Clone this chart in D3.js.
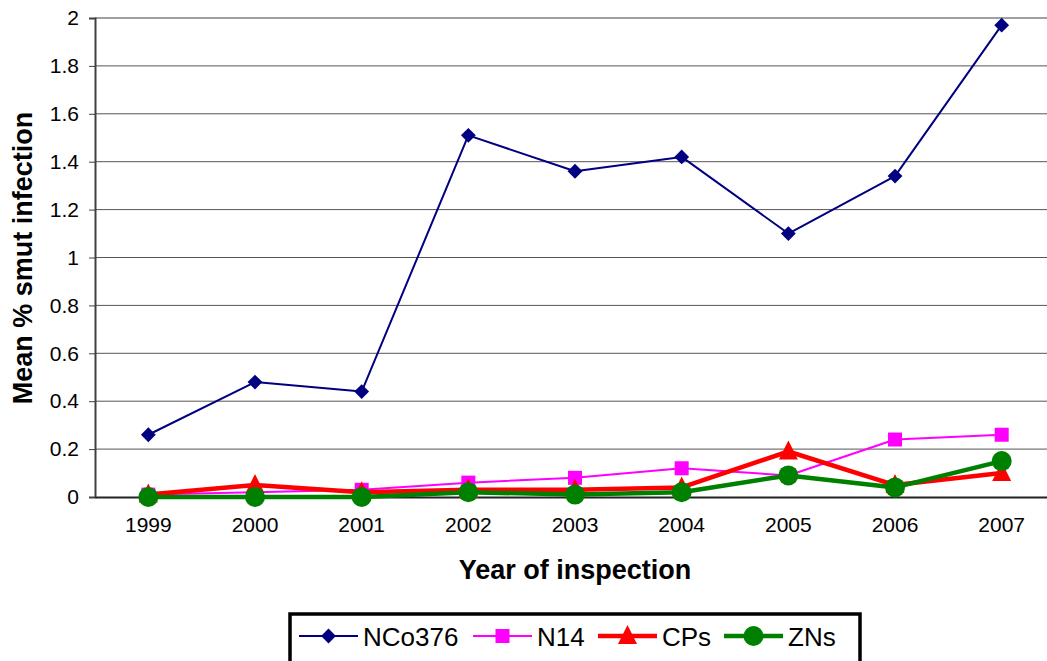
<!DOCTYPE html>
<html>
<head>
<meta charset="utf-8">
<script src="https://cdnjs.cloudflare.com/ajax/libs/d3/7.8.5/d3.min.js"></script>
<style>
  body { margin: 0; background: #fff; }
  svg { font-family: "Liberation Sans", Arial, sans-serif; }
</style>
</head>
<body>
<svg id="chart" width="1047" height="661"></svg>
<script>
// data
let years = ["1999", "2000", "2001", "2002", "2003", "2004", "2005", "2006", "2007"];
let nco376 = [0.26, 0.48, 0.44, 1.51, 1.36, 1.42, 1.10, 1.34, 1.97];
let n14    = [0.01, 0.02, 0.03, 0.06, 0.08, 0.12, 0.09, 0.24, 0.26];
let cps    = [0.01, 0.05, 0.02, 0.03, 0.03, 0.04, 0.19, 0.05, 0.10];
let zns    = [0.00, 0.00, 0.00, 0.02, 0.01, 0.02, 0.09, 0.04, 0.15];
let yTicks = [0, 0.2, 0.4, 0.6, 0.8, 1, 1.2, 1.4, 1.6, 1.8, 2];

let series = [
    { name: "NCo376", values: nco376, color: "#000080", width: 2,   marker: "diamond" },
    { name: "N14",    values: n14,    color: "#ff00ff", width: 2,   marker: "square" },
    { name: "CPs",    values: cps,    color: "#ff0000", width: 4.5, marker: "triangle" },
    { name: "ZNs",    values: zns,    color: "#008000", width: 4.5, marker: "circle" }
];

let chart = d3.select("#chart");
let plotLeft = 95, plotTop = 18, plotBottom = 497;
let step = 106.67;

let x = d3.scaleBand().domain(years).range([plotLeft, plotLeft + step * years.length]);
let y = d3.scaleLinear().domain([0, 2]).range([plotBottom, plotTop]);
let cx = function(d, i) { return x(years[i]) + x.bandwidth() / 2; };

// gridlines
chart.append("g").selectAll("line")
    .data(yTicks.filter(function(t) { return t > 0 && t < 2; }))
    .enter().append("line")
    .attr("x1", plotLeft).attr("x2", 1047)
    .attr("y1", function(d) { return y(d); })
    .attr("y2", function(d) { return y(d); })
    .attr("stroke", "#555")
    .attr("stroke-width", 1);

chart.append("line")
    .attr("x1", plotLeft).attr("x2", 1047)
    .attr("y1", y(2)).attr("y2", y(2))
    .attr("stroke", "#a0a0a0").attr("stroke-width", 2);

// y axis
let yAxis = d3.axisLeft(y).tickValues(yTicks).tickSize(6).tickPadding(10)
    .tickFormat(function(d) { return d3.format("")(+d.toFixed(1)); });
let ya = chart.append("g").attr("transform", "translate(" + plotLeft + ",0)").call(yAxis);
ya.select(".domain").attr("stroke", "#404040").attr("stroke-width", 2);
ya.selectAll(".tick line").attr("stroke", "#404040");
ya.selectAll("text").style("font-size", "21px").style("font-family", "'Liberation Sans', Arial, sans-serif").attr("fill", "#000");

// x axis
let xAxis = d3.axisBottom(x).tickSize(0).tickPadding(20);
let xa = chart.append("g").attr("transform", "translate(0," + plotBottom + ")").call(xAxis);
xa.select(".domain").attr("stroke", "#222").attr("stroke-width", 2);
xa.selectAll("text").style("font-size", "21px").style("font-family", "'Liberation Sans', Arial, sans-serif").attr("fill", "#000");

// titles
chart.append("text")
    .attr("x", 575).attr("y", 579)
    .attr("text-anchor", "middle")
    .style("font-size", "27px").style("font-weight", "bold")
    .text("Year of inspection");

chart.append("text")
    .attr("transform", "translate(32,258) rotate(-90)")
    .attr("text-anchor", "middle")
    .style("font-size", "27px").style("font-weight", "bold")
    .text("Mean % smut infection");

// markers
function drawMarker(sel, type, color) {
    if (type == "diamond") {
        sel.append("path").attr("d", d3.symbol(d3.symbolDiamond2, 140)()).attr("fill", color);
    } else if (type == "square") {
        sel.append("rect").attr("x", -7).attr("y", -7).attr("width", 14).attr("height", 14).attr("fill", color);
    } else if (type == "triangle") {
        sel.append("path").attr("d", "M0,-11L9.5,8L-9.5,8Z").attr("fill", color);
    } else {
        sel.append("circle").attr("r", 10).attr("fill", color);
    }
}

let line = d3.line()
    .x(function(d, i) { return cx(d, i); })
    .y(function(d) { return y(d); });

series.forEach(function(s) {
    let g = chart.append("g");
    g.append("path")
        .datum(s.values)
        .attr("d", line)
        .attr("fill", "none")
        .attr("stroke", s.color)
        .attr("stroke-width", s.width)
        .attr("stroke-linejoin", "round");
    g.selectAll("g.m")
        .data(s.values)
        .enter().append("g")
        .attr("class", "m")
        .attr("transform", function(d, i) { return "translate(" + cx(d, i) + "," + y(d) + ")"; })
        .each(function() { drawMarker(d3.select(this), s.marker, s.color); });
});

// legend
let legend = chart.append("g");
legend.append("rect")
    .attr("x", 290).attr("y", 614)
    .attr("width", 570).attr("height", 60)
    .attr("fill", "#fff").attr("stroke", "#000").attr("stroke-width", 3.5);

let legendX = [299, 473, 598, 724];
series.forEach(function(s, i) {
    let lg = legend.append("g").attr("transform", "translate(" + legendX[i] + ",636)");
    lg.append("line").attr("x1", 0).attr("x2", 59).attr("y1", 0).attr("y2", 0)
        .attr("stroke", s.color).attr("stroke-width", s.width);
    let m = lg.append("g").attr("transform", "translate(29.5,0)");
    drawMarker(m, s.marker, s.color);
    lg.append("text")
        .attr("x", 64).attr("y", 9.5)
        .style("font-size", "26px")
        .text(s.name);
});
</script>
</body>
</html>
